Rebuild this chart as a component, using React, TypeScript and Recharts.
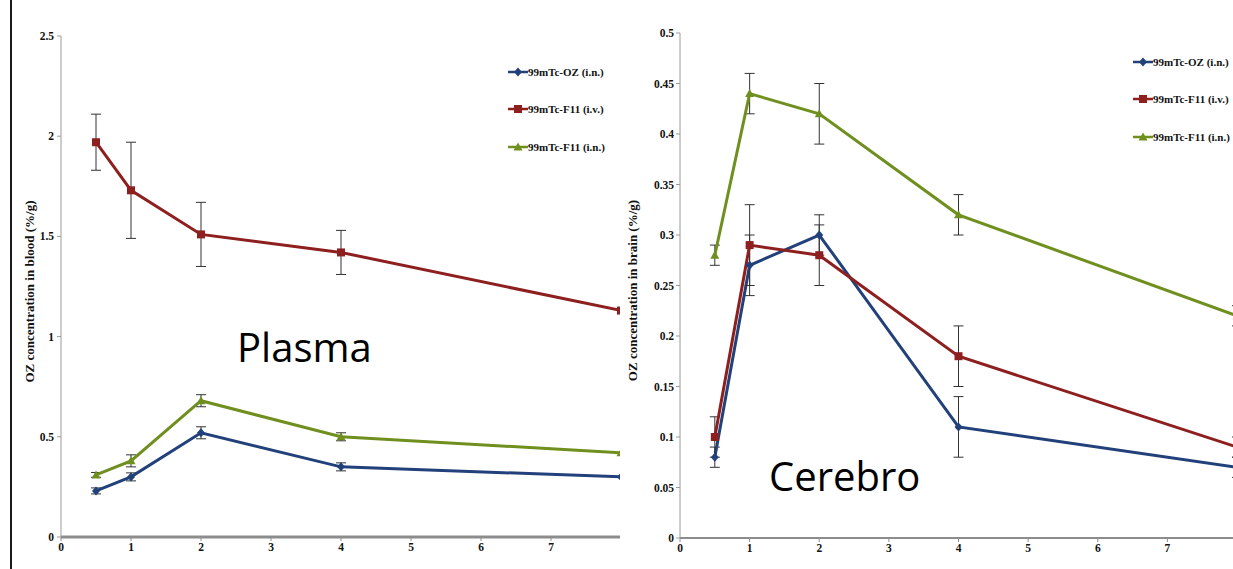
import React from 'react';
import { LineChart, Line, XAxis, YAxis, ErrorBar, Legend } from 'recharts';

// ---- data ----
const times = [0.5, 1, 2, 4, 8];
const seriesNames = ['99mTc-OZ (i.n.)', '99mTc-F11 (i.v.)', '99mTc-F11 (i.n.)'];
const seriesColors = ['#22407A', '#8E1F1F', '#6F8F1F'];

const plasmaOZ = [0.23, 0.30, 0.52, 0.35, 0.30];
const plasmaOZErr = [0.015, 0.02, 0.03, 0.02, 0];
const plasmaF11iv = [1.97, 1.73, 1.51, 1.42, 1.13];
const plasmaF11ivErr = [0.14, 0.24, 0.16, 0.11, 0];
const plasmaF11in = [0.31, 0.38, 0.68, 0.50, 0.42];
const plasmaF11inErr = [0.012, 0.03, 0.03, 0.02, 0];

const brainOZ = [0.08, 0.27, 0.30, 0.11, 0.07];
const brainOZErr = [0.01, 0.03, 0.02, 0.03, 0.01];
const brainF11iv = [0.10, 0.29, 0.28, 0.18, 0.09];
const brainF11ivErr = [0.02, 0.04, 0.03, 0.03, 0.01];
const brainF11in = [0.28, 0.44, 0.42, 0.32, 0.22];
const brainF11inErr = [0.01, 0.02, 0.03, 0.02, 0.01];

const xTicks = [0, 1, 2, 3, 4, 5, 6, 7];
const plasmaYTicks = [0, 0.5, 1, 1.5, 2, 2.5];
const brainYTicks = [0, 0.05, 0.1, 0.15, 0.2, 0.25, 0.3, 0.35, 0.4, 0.45, 0.5];

const plasmaLabel = 'OZ concentration in blood (%/g)';
const brainLabel = 'OZ concentration in brain  (%/g)';

const plasmaData = times.map((t, i) => ({
  t,
  oz: plasmaOZ[i], ozErr: plasmaOZErr[i],
  iv: plasmaF11iv[i], ivErr: plasmaF11ivErr[i],
  inn: plasmaF11in[i], innErr: plasmaF11inErr[i],
}));
const brainData = times.map((t, i) => ({
  t,
  oz: brainOZ[i], ozErr: brainOZErr[i],
  iv: brainF11iv[i], ivErr: brainF11ivErr[i],
  inn: brainF11in[i], innErr: brainF11inErr[i],
}));

// ---- markers ----
const markerPath = (kind: number, cx: number, cy: number) => {
  if (kind === 0) return `M${cx},${cy - 4.5}L${cx + 4},${cy}L${cx},${cy + 4.5}L${cx - 4},${cy}Z`;
  if (kind === 1) return `M${cx - 4},${cy - 4}L${cx + 4},${cy - 4}L${cx + 4},${cy + 4}L${cx - 4},${cy + 4}Z`;
  return `M${cx},${cy - 4.5}L${cx + 4.5},${cy + 3.5}L${cx - 4.5},${cy + 3.5}Z`;
};
const makeDot = (kind: number) => (props: any) => {
  const { cx, cy, index } = props;
  if (cx == null || cy == null) return <g key={`n-${kind}-${index}`} />;
  return <path key={`m-${kind}-${index}`} d={markerPath(kind, cx, cy)} fill={seriesColors[kind]} />;
};

const fontSerif = '"Liberation Serif", "DejaVu Serif", serif';

const makeLegend = (fontSize: number) => () => (
  <div style={{ fontFamily: fontSerif, fontWeight: 'bold', fontSize, color: '#111' }}>
    {seriesNames.map((n, k) => (
      <div key={n} style={{ height: 37.5, display: 'flex', alignItems: 'center' }}>
        <svg width={20} height={12} style={{ display: 'block' }}>
          <line x1={0} y1={6} x2={20} y2={6} stroke={seriesColors[k]} strokeWidth={2.5} />
          <path d={markerPath(k, 10, 6)} fill={seriesColors[k]} />
        </svg>
        <span style={{ whiteSpace: 'nowrap', marginLeft: 0 }}>{n}</span>
      </div>
    ))}
  </div>
);

const tickStyle = { fontSize: 11.5, fontWeight: 'bold', fill: '#111', fontFamily: fontSerif } as any;
const axisLabelStyle = { fontSize: 13, fontWeight: 'bold', fill: '#111', fontFamily: fontSerif } as any;

const renderSeries = () => [
  <Line key="oz" dataKey="oz" name={seriesNames[0]} stroke={seriesColors[0]} strokeWidth={3}
    type="linear" dot={makeDot(0)} activeDot={false} isAnimationActive={false}>
    <ErrorBar dataKey="ozErr" width={5} stroke="#333" strokeWidth={1} direction="y" isAnimationActive={false} />
  </Line>,
  <Line key="inn" dataKey="inn" name={seriesNames[2]} stroke={seriesColors[2]} strokeWidth={3}
    type="linear" dot={makeDot(2)} activeDot={false} isAnimationActive={false}>
    <ErrorBar dataKey="innErr" width={5} stroke="#333" strokeWidth={1} direction="y" isAnimationActive={false} />
  </Line>,
  <Line key="iv" dataKey="iv" name={seriesNames[1]} stroke={seriesColors[1]} strokeWidth={3}
    type="linear" dot={makeDot(1)} activeDot={false} isAnimationActive={false}>
    <ErrorBar dataKey="ivErr" width={5} stroke="#333" strokeWidth={1} direction="y" isAnimationActive={false} />
  </Line>,
];

export default function App() {
  return (
    <div style={{ position: 'absolute', left: 0, top: 0, width: 1233, height: 569, background: '#fff', overflow: 'hidden' }}>
      {/* left frame line */}
      <div style={{ position: 'absolute', left: 10, top: 0, width: 2, height: 569, background: '#1a1a1a' }} />

      {/* Plasma panel */}
      <div style={{ position: 'absolute', left: 0, top: 0, width: 620, height: 569, overflow: 'hidden' }}>
        <LineChart width={660} height={569} data={plasmaData} margin={{ top: 36, right: 39, bottom: 0, left: 0 }}>
          <XAxis type="number" dataKey="t" domain={[0, 8]} ticks={xTicks} height={32}
            tickSize={4} tickMargin={2} tick={tickStyle}
            axisLine={{ stroke: '#8c8c8c', strokeWidth: 3 }} tickLine={{ stroke: '#8c8c8c' }} allowDataOverflow />
          <YAxis type="number" domain={[0, 2.5]} ticks={plasmaYTicks} width={61}
            tickSize={4} tickMargin={3} tick={tickStyle}
            axisLine={{ stroke: '#9a9a9a' }} tickLine={{ stroke: '#9a9a9a' }}
            label={{ value: plasmaLabel, angle: -90, position: 'center', dx: -1, dy: 5, style: axisLabelStyle }} />
          {renderSeries()}
          <Legend layout="vertical" align="center" verticalAlign="middle" content={makeLegend(11)}
            wrapperStyle={{ left: 508, top: 53, width: 130, height: 'auto' }} />
        </LineChart>
      </div>

      {/* Brain panel */}
      <div style={{ position: 'absolute', left: 600, top: 0, width: 633, height: 569, overflow: 'hidden' }}>
        <LineChart width={680} height={569} data={brainData} margin={{ top: 33, right: 43, bottom: 0, left: 0 }}>
          <XAxis type="number" dataKey="t" domain={[0, 8]} ticks={xTicks} height={31}
            tickSize={4} tickMargin={2} tick={tickStyle}
            axisLine={{ stroke: '#8c8c8c', strokeWidth: 2 }} tickLine={{ stroke: '#8c8c8c' }} allowDataOverflow />
          <YAxis type="number" domain={[0, 0.5]} ticks={brainYTicks} width={80}
            tickSize={4} tickMargin={2} tick={tickStyle}
            axisLine={{ stroke: '#9a9a9a' }} tickLine={{ stroke: '#9a9a9a' }}
            label={{ value: brainLabel, angle: -90, position: 'center', dx: -8, dy: 5, style: axisLabelStyle }} />
          {renderSeries()}
          <Legend layout="vertical" align="center" verticalAlign="middle" content={makeLegend(11)}
            wrapperStyle={{ left: 533, top: 43, width: 110, height: 'auto' }} />
        </LineChart>
      </div>

      <div style={{ position: 'absolute', left: 237, top: 327, fontFamily: '"Open Sans", sans-serif', fontSize: 40, lineHeight: 1, color: '#000' }}>Plasma</div>
      <div style={{ position: 'absolute', left: 769, top: 456, fontFamily: '"Open Sans", sans-serif', fontSize: 40, lineHeight: 1, color: '#000' }}>Cerebro</div>
    </div>
  );
}
